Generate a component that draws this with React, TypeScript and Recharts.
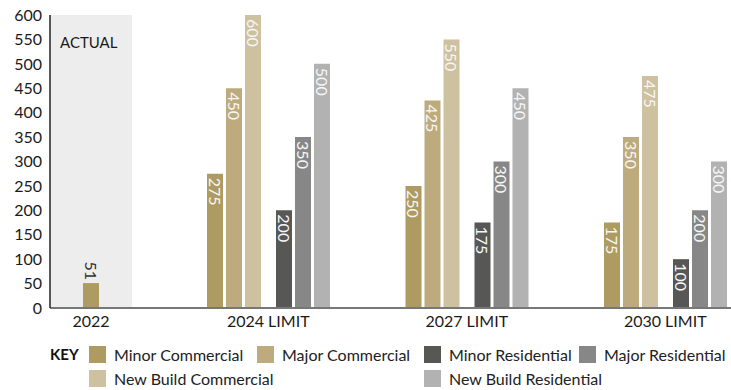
import { BarChart, Bar, XAxis, YAxis, ReferenceArea, Label, LabelList } from 'recharts';

const CATEGORIES = ['2022', '2024 LIMIT', '2027 LIMIT', '2030 LIMIT'];
const LIMIT_TICKS = ['2024 LIMIT', '2027 LIMIT', '2030 LIMIT'];
const Y_TICKS = [0, 50, 100, 150, 200, 250, 300, 350, 400, 450, 500, 550, 600];

const ACTUAL = [51, null, null, null];
const MINOR_COMMERCIAL = [null, 275, 250, 175];
const MAJOR_COMMERCIAL = [null, 450, 425, 350];
const NEW_BUILD_COMMERCIAL = [null, 600, 550, 475];
const MINOR_RESIDENTIAL = [null, 200, 175, 100];
const MAJOR_RESIDENTIAL = [null, 350, 300, 200];
const NEW_BUILD_RESIDENTIAL = [null, 500, 450, 300];

const FONT = 'Lato, sans-serif';

const SERIES = [
  { key: 'minorCommercial', name: 'Minor Commercial', color: '#ad9b62' },
  { key: 'majorCommercial', name: 'Major Commercial', color: '#bdab7d' },
  { key: 'newBuildCommercial', name: 'New Build Commercial', color: '#cec19f' },
  { key: 'minorResidential', name: 'Minor Residential', color: '#575756' },
  { key: 'majorResidential', name: 'Major Residential', color: '#878787' },
  { key: 'newBuildResidential', name: 'New Build Residential', color: '#b2b2b2' },
];

const data = CATEGORIES.map((category, i) => ({
  category,
  actual: ACTUAL[i],
  minorCommercial: MINOR_COMMERCIAL[i],
  majorCommercial: MAJOR_COMMERCIAL[i],
  newBuildCommercial: NEW_BUILD_COMMERCIAL[i],
  minorResidential: MINOR_RESIDENTIAL[i],
  majorResidential: MAJOR_RESIDENTIAL[i],
  newBuildResidential: NEW_BUILD_RESIDENTIAL[i],
}));

// value written downwards, just inside the top of the bar
const InsideLabel = (props: any) => {
  const { x, y, width, value } = props;
  if (value == null) return null;
  const cx = x + width / 2;
  const ty = y + 4;
  return (
    <text x={cx} y={ty} transform={`rotate(90 ${cx} ${ty})`} textAnchor="start" dominantBaseline="central" fill="#f6f6f6" fontSize={16} fontFamily={FONT}>
      {value}
    </text>
  );
};

// value written downwards, ending just above the bar
const OutsideLabel = (props: any) => {
  const { x, y, width, value } = props;
  if (value == null) return null;
  const cx = x + width / 2;
  const ty = y - 3;
  return (
    <text x={cx} y={ty} transform={`rotate(90 ${cx} ${ty})`} textAnchor="end" dominantBaseline="central" fill="#333" fontSize={16} fontFamily={FONT}>
      {value}
    </text>
  );
};

function Swatch({ color, name }: { color: string; name: string }) {
  return (
    <div style={{ display: 'flex', alignItems: 'center', height: 17 }}>
      <span style={{ width: 17, height: 17, background: color, marginRight: 8, flexShrink: 0 }} />
      <span style={{ fontSize: 16, color: '#222', whiteSpace: 'nowrap' }}>{name}</span>
    </div>
  );
}

function Key() {
  const [mc, mjc, nbc, mr, mjr, nbr] = SERIES;
  return (
    <div style={{ position: 'absolute', left: 0, top: 346, width: 731, fontFamily: FONT }}>
      <div style={{ position: 'absolute', left: 50, top: 0, height: 17, lineHeight: '17px', fontSize: 15, fontWeight: 700, color: '#111' }}>KEY</div>
      <div style={{ position: 'absolute', left: 89, top: 0, display: 'grid', gridTemplateColumns: '168px 167px 155px auto', rowGap: 7 }}>
        <Swatch {...mc} />
        <Swatch {...mjc} />
        <Swatch {...mr} />
        <Swatch {...mjr} />
        <Swatch {...nbc} />
        <div />
        <Swatch {...nbr} />
      </div>
    </div>
  );
}

export default function App() {
  return (
    <div style={{ position: 'absolute', left: 0, top: 0, width: 731, height: 390, background: '#fff', fontFamily: FONT }}>
      <BarChart width={731} height={340} data={data} margin={{ top: 15, right: 0, bottom: 2, left: 0 }} barGap={3}>
        <XAxis xAxisId="actual" dataKey="category" hide height={0} padding={{ left: 0, right: 353 }} />
        <XAxis
          xAxisId="main"
          dataKey="category"
          ticks={LIMIT_TICKS}
          padding={{ left: -79.5, right: -33.5 }}
          height={30}
          tickLine={false}
          axisLine={{ stroke: '#777', strokeWidth: 2 }}
          tick={{ fill: '#1a1a1a', fontSize: 16, fontFamily: FONT }}
        />
        <YAxis
          domain={[0, 600]}
          ticks={Y_TICKS}
          width={50}
          interval={0}
          tickLine={false}
          axisLine={{ stroke: '#222', strokeWidth: 1.5 }}
          tick={{ fill: '#1a1a1a', fontSize: 16, fontFamily: FONT }}
        />
        <ReferenceArea
          xAxisId="actual"
          x1="2022"
          x2="2022"
          y1={0}
          y2={600}
          fill="#ededed"
          fillOpacity={1}
          stroke="none"
          label={(p: any) => (
            <text x={p.viewBox.x + 10} y={p.viewBox.y + 33} fill="#1a1a1a" fontSize={15} fontFamily={FONT}>
              ACTUAL
            </text>
          )}
        >
          <Label value="2022" position="bottom" offset={8} fill="#1a1a1a" fontSize={16} fontFamily={FONT} />
        </ReferenceArea>
        <Bar xAxisId="actual" dataKey="actual" name="Actual" fill={SERIES[0].color} barSize={16} isAnimationActive={false} legendType="none">
          <LabelList dataKey="actual" content={OutsideLabel} />
        </Bar>
        {SERIES.slice(0, 3).map((s) => (
          <Bar key={s.key} xAxisId="main" dataKey={s.key} name={s.name} fill={s.color} barSize={16} isAnimationActive={false}>
            <LabelList dataKey={s.key} content={InsideLabel} />
          </Bar>
        ))}
        <Bar xAxisId="main" dataKey="spacer" barSize={9} isAnimationActive={false} legendType="none" />
        {SERIES.slice(3).map((s) => (
          <Bar key={s.key} xAxisId="main" dataKey={s.key} name={s.name} fill={s.color} barSize={16} isAnimationActive={false}>
            <LabelList dataKey={s.key} content={InsideLabel} />
          </Bar>
        ))}
      </BarChart>
      <Key />
    </div>
  );
}
